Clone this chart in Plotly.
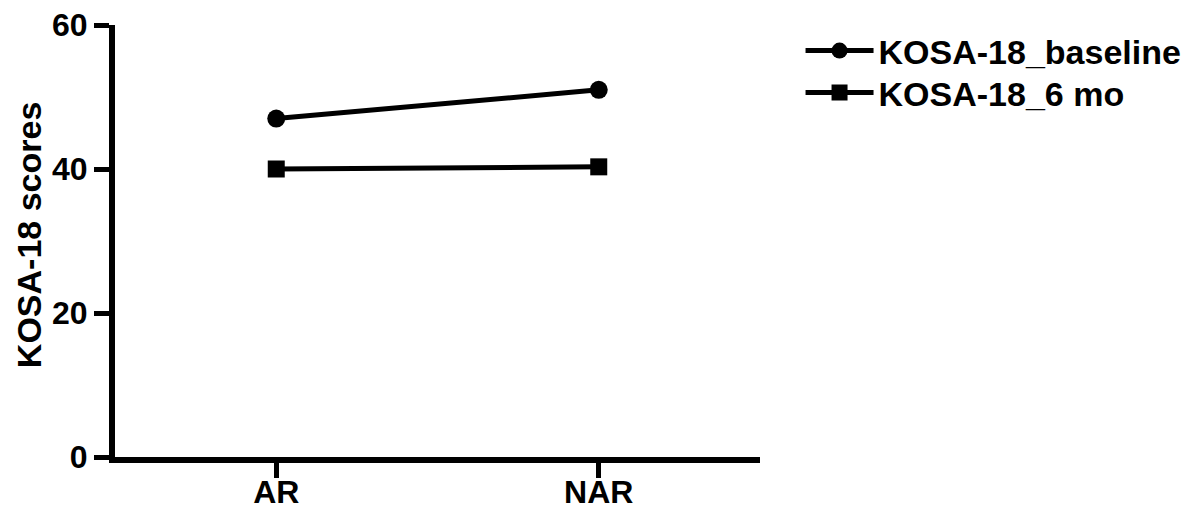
import plotly.graph_objects as go

categories = ["AR", "NAR"]
baseline = [47.0, 51.0]
six_mo = [40.0, 40.3]
series_names = ["KOSA-18_baseline", "KOSA-18_6 mo"]
y_ticks = [0, 20, 40, 60]
y_title = "KOSA-18 scores"

FONT = "Liberation Sans, Arial, sans-serif"
W, H = 1190, 502

fig = go.Figure()
fig.add_trace(go.Scatter(
    x=categories, y=baseline, name=series_names[0], mode="lines+markers",
    line=dict(color="black", width=5),
    marker=dict(symbol="circle", size=18, color="black"),
    legend="legend",
))
fig.add_trace(go.Scatter(
    x=categories, y=six_mo, name=series_names[1], mode="lines+markers",
    line=dict(color="black", width=5),
    marker=dict(symbol="square", size=17, color="black"),
    legend="legend2",
))

leg_common = dict(
    xref="container", yref="container", xanchor="left", yanchor="middle",
    font=dict(family=FONT, size=34, color="black", weight="bold"),
    bgcolor="rgba(0,0,0,0)", itemsizing="trace", itemwidth=68,
)

fig.update_layout(
    width=W, height=H,
    margin=dict(l=107, r=438, t=17, b=53),
    paper_bgcolor="white", plot_bgcolor="white",
    font=dict(family=FONT, color="black", size=32, weight="bold"),
    showlegend=True,
    legend=dict(x=0.666, y=0.9143, **leg_common),
    legend2=dict(x=0.666, y=0.8307, **leg_common),
    annotations=[dict(
        text=y_title, textangle=-90, showarrow=False,
        xref="paper", yref="paper", x=-0.133, y=0.514,
        xanchor="center", yanchor="middle",
        font=dict(family=FONT, size=34, color="black", weight="bold"),
    )],
)
fig.update_xaxes(
    type="category", range=[-0.5, 1.5],
    showline=True, linecolor="black", linewidth=6,
    ticks="outside", ticklen=15, tickwidth=5, tickcolor="black",
    showgrid=False, zeroline=False, automargin=False,
    ticklabelstandoff=-13, ticklabeloverflow="allow",
    tickfont=dict(family=FONT, size=32, color="black", weight="bold"),
)
fig.update_yaxes(
    range=[0, 60], tickvals=y_ticks,
    showline=True, linecolor="black", linewidth=6,
    ticks="outside", ticklen=15, tickwidth=5, tickcolor="black",
    showgrid=False, zeroline=False, automargin=False,
    ticklabeloverflow="allow",
    tickfont=dict(family=FONT, size=32, color="black", weight="bold"),
)

fig.write_html("out.html")
